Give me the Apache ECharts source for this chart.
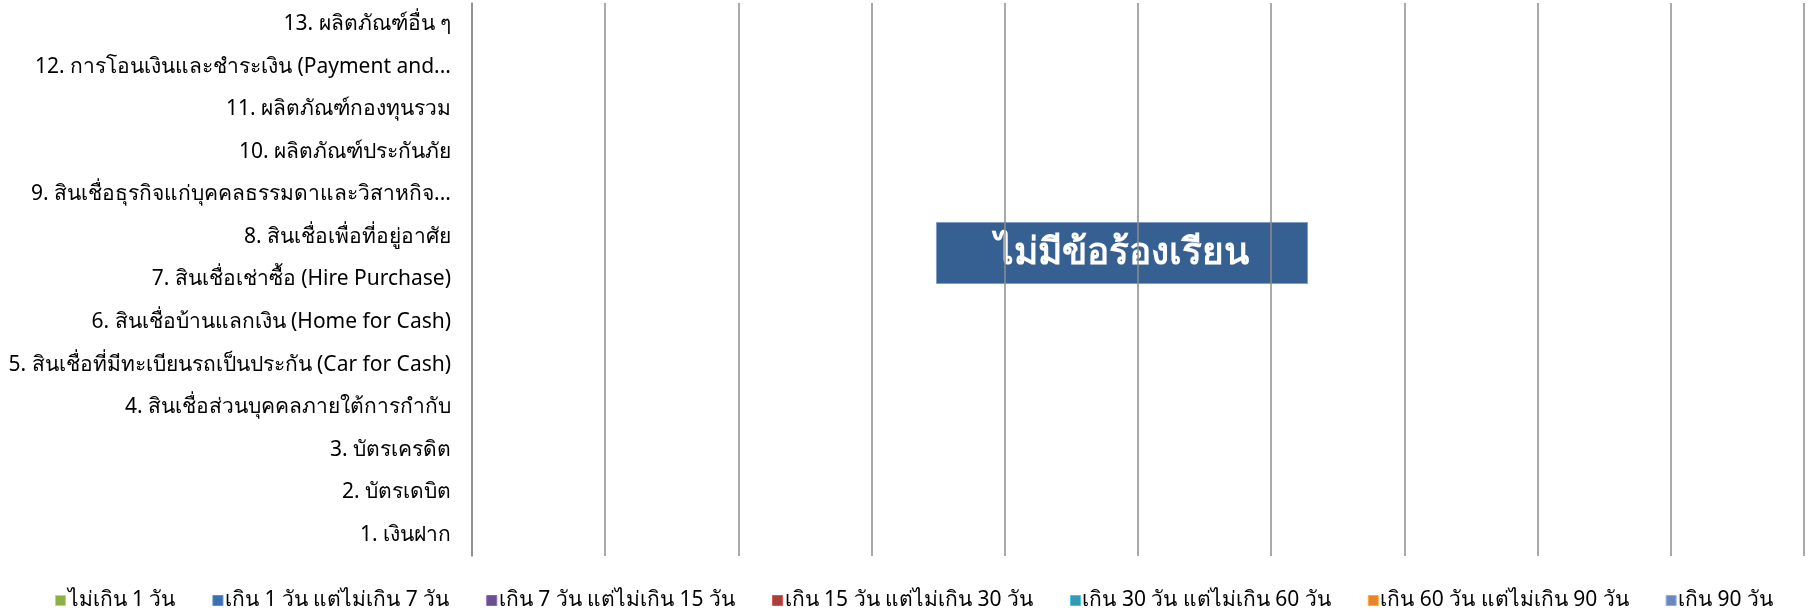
<!DOCTYPE html>
<html>
<head>
<meta charset="utf-8">
<script src="https://cdn.jsdelivr.net/npm/echarts@6/dist/echarts.min.js"></script>
<style>
html,body{margin:0;padding:0;background:#fff;}
#chart{width:1810px;height:613px;}
</style>
</head>
<body>
<div id="chart"></div>
<script>
const categories = [
  "1. เงินฝาก",
  "2. บัตรเดบิต",
  "3. บัตรเครดิต",
  "4. สินเชื่อส่วนบุคคลภายใต้การกำกับ",
  "5. สินเชื่อที่มีทะเบียนรถเป็นประกัน (Car for Cash)",
  "6. สินเชื่อบ้านแลกเงิน (Home for Cash)",
  "7. สินเชื่อเช่าซื้อ (Hire Purchase)",
  "8. สินเชื่อเพื่อที่อยู่อาศัย",
  "9. สินเชื่อธุรกิจแก่บุคคลธรรมดาและวิสาหกิจ...",
  "10. ผลิตภัณฑ์ประกันภัย",
  "11. ผลิตภัณฑ์กองทุนรวม",
  "12. การโอนเงินและชำระเงิน (Payment and...",
  "13. ผลิตภัณฑ์อื่น ๆ"
];
const seriesNames = [
  "ไม่เกิน 1 วัน",
  "เกิน 1 วัน แต่ไม่เกิน 7 วัน",
  "เกิน 7 วัน แต่ไม่เกิน 15 วัน",
  "เกิน 15 วัน แต่ไม่เกิน 30 วัน",
  "เกิน 30 วัน แต่ไม่เกิน 60 วัน",
  "เกิน 60 วัน แต่ไม่เกิน 90 วัน",
  "เกิน 90 วัน"
];
const within1Day   = [0,0,0,0,0,0,0,0,0,0,0,0,0];
const days1to7     = [0,0,0,0,0,0,0,0,0,0,0,0,0];
const days7to15    = [0,0,0,0,0,0,0,0,0,0,0,0,0];
const days15to30   = [0,0,0,0,0,0,0,0,0,0,0,0,0];
const days30to60   = [0,0,0,0,0,0,0,0,0,0,0,0,0];
const days60to90   = [0,0,0,0,0,0,0,0,0,0,0,0,0];
const over90Days   = [0,0,0,0,0,0,0,0,0,0,0,0,0];
const seriesValues = [within1Day, days1to7, days7to15, days15to30, days30to60, days60to90, over90Days];
const colors = ["#8cb043","#3e6fae","#6a4f91","#a8403c","#3599b4","#e8842c","#6d86bd"];
const noDataText = "ไม่มีข้อร้องเรียน";

const FONT = "Tahoma, 'Noto Sans', 'DejaVu Sans', sans-serif";
const chart = echarts.init(document.getElementById('chart'), null, {renderer:'canvas'});

chart.setOption({
  animation:false,
  backgroundColor:'#ffffff',
  grid:{left:472,right:6,top:3,bottom:57,containLabel:false},
  legend:{
    bottom:-3,
    left:50,
    itemWidth:10,
    itemHeight:10,
    itemGap:37,
    icon:'rect',
    textStyle:{fontFamily:FONT,fontSize:21,color:'#000',padding:[0,0,0,-3]},
    data:seriesNames.map((n,i)=>({name:n,itemStyle:{color:colors[i],borderColor:echarts.color.lift(colors[i],-0.3),borderWidth:1}}))
  },
  xAxis:{
    type:'value',
    min:0,max:10,interval:1,
    axisLabel:{show:false},
    axisTick:{show:false},
    axisLine:{show:false},
    splitLine:{show:true,lineStyle:{color:'#8c8c8c',width:1.5}}
  },
  yAxis:{
    type:'category',
    data:categories,
    axisTick:{show:false},
    axisLine:{show:true,lineStyle:{color:'#8c8c8c',width:1.5}},
    axisLabel:{fontFamily:FONT,fontSize:21,color:'#000',margin:21},
    splitLine:{show:false}
  },
  series: seriesNames.map((n,i)=>({
    name:n,
    type:'bar',
    stack:'total',
    data:seriesValues[i],
    itemStyle:{color:colors[i]},
    barWidth:'60%'
  })),
  graphic:[{
    type:'group',
    left:936,
    top:222,
    children:[
      {type:'rect',shape:{x:0,y:0,width:371,height:61},style:{fill:'#366092',stroke:'#7f9cc4',lineWidth:1}},
      {type:'text',x:185.5,y:31,style:{text:noDataText,fill:'#fff',font:"bold 37px "+FONT,align:'center',verticalAlign:'middle'}}
    ]
  }]
});
</script>
</body>
</html>
